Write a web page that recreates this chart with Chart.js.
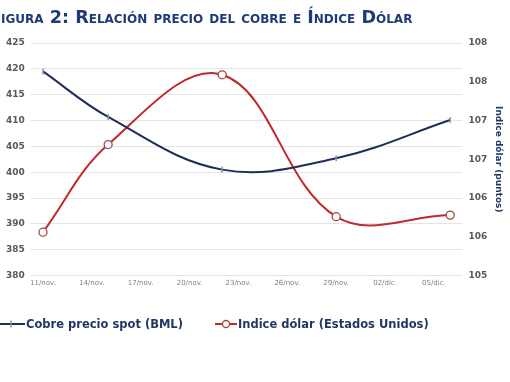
<!DOCTYPE html>
<html><head><meta charset="utf-8">
<script src="https://cdn.jsdelivr.net/npm/chart.js@4/dist/chart.umd.min.js"></script>
<style>
html,body{margin:0;padding:0;background:#fff;width:510px;height:382px;overflow:hidden;position:relative}
#c{position:absolute;left:0;top:0}
#title{position:absolute;left:-11px;top:7px;white-space:nowrap;font-family:"DejaVu Sans",Verdana,sans-serif;font-weight:bold;font-size:17.6px;font-variant:small-caps;color:#1f3a78}
#legend{position:absolute;left:-3px;top:317px;white-space:nowrap;font-family:"DejaVu Sans",Verdana,sans-serif;font-weight:bold;font-size:11.5px;color:#1f3864}
#legend span.item{display:inline-flex;align-items:center}
#legend span.item + span.item{margin-left:28px}
#legend svg{margin-right:1px}
</style></head><body>
<canvas id="c" width="510" height="382"></canvas>
<div id="title">Figura 2: Relación precio del cobre e Índice Dólar</div>
<div id="legend">
<span class="item"><svg width="28" height="10"><line x1="0" y1="5" x2="28" y2="5" stroke="#1f2d5a" stroke-width="2"/><line x1="14" y1="1.5" x2="14" y2="8.5" stroke="#8a93a8" stroke-width="1.5"/></svg>Cobre precio spot (BML)</span>
<span class="item"><svg width="22" height="10"><line x1="0" y1="5" x2="22" y2="5" stroke="#c0282d" stroke-width="2"/><circle cx="11" cy="5" r="3.5" fill="#fff" stroke="#a04848" stroke-width="1.3"/></svg>Indice dólar (Estados Unidos)</span>
</div>
<script>
// Day offsets from 11/nov.
const dates = [0, 4, 11, 18, 25];
const cobre = [419.5, 410.7, 400.5, 402.7, 410.1];
const dolar = [105.56, 106.69, 107.59, 105.76, 105.78];
const tickDays = [0, 3, 6, 9, 12, 15, 18, 21, 24];
const tickLabels = ['11/nov.', '14/nov.', '17/nov.', '20/nov.', '23/nov.', '26/nov.', '29/nov.', '02/dic.', '05/dic.'];
const seriesNames = ['Cobre precio spot (BML)', 'Indice dólar (Estados Unidos)'];

const font = 'DejaVu Sans';
new Chart(document.getElementById('c'), {
  type: 'line',
  data: {
    datasets: [
      {
        label: seriesNames[0],
        data: dates.map((d, i) => ({x: d, y: cobre[i]})),
        yAxisID: 'y',
        borderColor: '#1f2d5a',
        borderWidth: 2,
        tension: 0.38,
        pointStyle: 'line',
        rotation: 90,
        pointRadius: 3,
        pointBorderColor: '#8a93a8',
        pointBorderWidth: 1.5,
        fill: false
      },
      {
        label: seriesNames[1],
        data: dates.map((d, i) => ({x: d, y: dolar[i]})),
        yAxisID: 'y1',
        borderColor: '#c0282d',
        borderWidth: 2,
        tension: 0.38,
        pointStyle: 'circle',
        pointRadius: 4,
        pointBackgroundColor: '#ffffff',
        pointBorderColor: '#a04848',
        pointBorderWidth: 1.3,
        fill: false
      }
    ]
  },
  options: {
    responsive: false,
    animation: false,
    layout: {padding: {top: 43, bottom: 92, left: 0, right: 4}},
    plugins: {legend: {display: false}, title: {display: false}, tooltip: {enabled: false}},
    scales: {
      x: {
        type: 'linear',
        min: -0.75,
        max: 25.75,
        afterBuildTicks: (axis) => { axis.ticks = tickDays.map(v => ({value: v})); },
        ticks: {
          autoSkip: false, maxRotation: 0,
          callback: (v) => { const i = tickDays.indexOf(v); return i >= 0 ? tickLabels[i] : ''; },
          font: {family: font, size: 7}, color: '#7f7f7f', padding: 3
        },
        grid: {display: false, drawTicks: false},
        border: {display: false}
      },
      y: {
        position: 'left',
        min: 380, max: 425,
        ticks: {stepSize: 5, font: {family: font, size: 9, weight: 'bold'}, color: '#595959', padding: 6},
        grid: {color: '#e4e4e4', lineWidth: 1, drawTicks: false},
        border: {display: false}
      },
      y1: {
        position: 'right',
        min: 105, max: 108,
        ticks: {stepSize: 0.5, callback: (v) => Math.round(v).toString(), font: {family: font, size: 9, weight: 'bold'}, color: '#595959', padding: 6},
        grid: {display: false, drawTicks: false},
        border: {display: false},
        title: {display: true, text: 'Indice dólar (puntos)', font: {family: font, size: 9, weight: 'bold'}, color: '#1f3864', padding: {top: 2, bottom: 0}}
      }
    }
  }
});
</script>
</body></html>
